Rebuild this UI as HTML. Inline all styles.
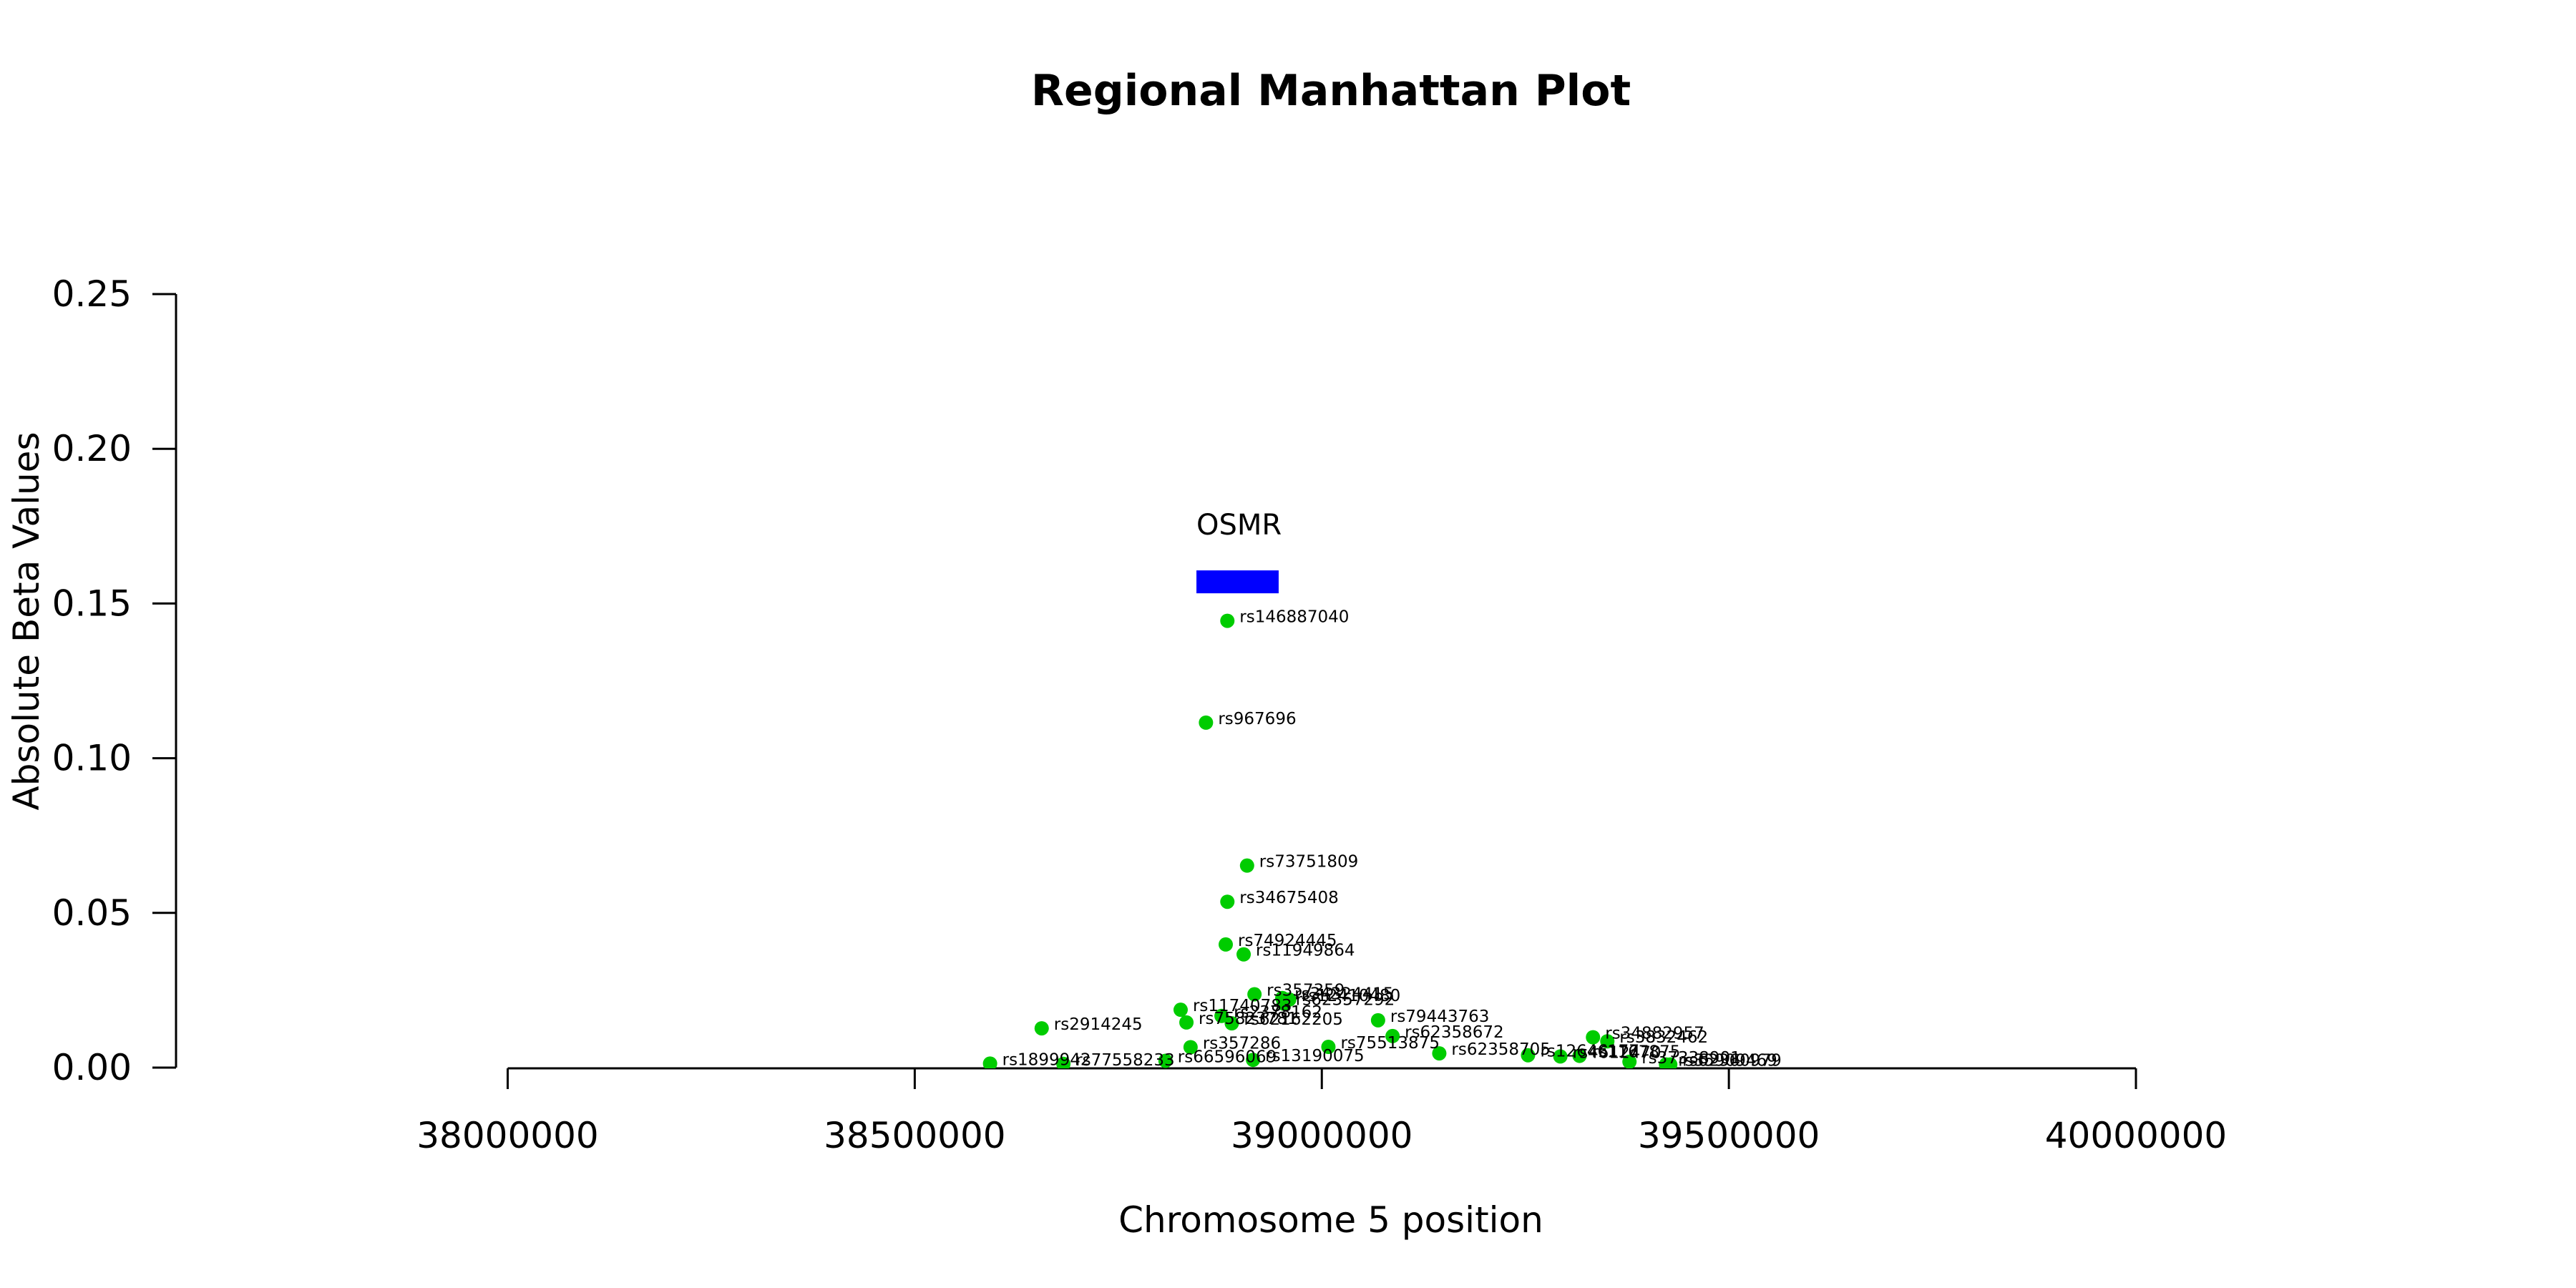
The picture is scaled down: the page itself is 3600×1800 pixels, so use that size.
<!DOCTYPE html>
<html><head><meta charset="utf-8"><style>
html,body{margin:0;padding:0;background:#fff;}
svg{display:block;font-family:"DejaVu Sans","Liberation Sans",sans-serif;}
</style></head><body>
<svg id="chart" width="3600" height="1800" viewBox="0 0 3600 1800">
<defs><clipPath id="plotclip"><rect x="0" y="300" width="3600" height="1193"/></clipPath></defs>
<text x="1860" y="147" text-anchor="middle" font-size="60" font-weight="bold">Regional Manhattan Plot</text>
<g id="yaxis"></g>
<g id="xaxis"></g>
<text x="0" y="0" transform="translate(54,868) rotate(-90)" text-anchor="middle" font-size="50">Absolute Beta Values</text>
<text x="1860" y="1722" text-anchor="middle" font-size="50">Chromosome 5 position</text>
<g id="genes"></g>
<g id="points" clip-path="url(#plotclip)"></g>
<g id="labels"></g>
</svg>
<script>
const snpNames = ["rs146887040","rs967696","rs73751809","rs34675408","rs74924445","rs11949864","rs357359","rs34324415","rs12410480","rs62357292","rs11740783","rs75823781","rs2378162","rs62162205","rs2914245","rs357286","rs1899942","rs77558233","rs66596069","rs13190075","rs79443763","rs75513875","rs62358672","rs62358705","rs12646177","rs4612470","rs1167875","rs34882957","rs3832462","rs37338901","rs35909469","rs62360979"];
const snpPos = [38884000,38857700,38908200,38884000,38882000,38904000,38917300,38951500,38960000,38953000,38826600,38833700,38876800,38889400,38655900,38838800,38592500,38682600,38808000,38915500,39069100,39008100,39086900,39144300,39253300,39293000,39316600,39333100,39350700,39377900,39422800,39428000];
const snpBeta = [0.1444,0.1115,0.0653,0.0536,0.0398,0.0366,0.0237,0.0225,0.0220,0.0207,0.0187,0.0146,0.0167,0.0143,0.0127,0.0066,0.0013,0.0012,0.0022,0.0025,0.0153,0.0067,0.0102,0.0046,0.0040,0.0036,0.0038,0.0098,0.0085,0.0019,0.0010,0.0010];
const yTicks = [0,0.05,0.10,0.15,0.20,0.25];
const yTickLabels = ["0.00","0.05","0.10","0.15","0.20","0.25"];
const xTicks = [38000000,38500000,39000000,39500000,40000000];
const xTickLabels = ["38000000","38500000","39000000","39500000","40000000"];
const geneNames = ["OSMR"];
const geneStart = [38846000];
const geneEnd = [38947000];
const geneBeta = [0.157];

const NS="http://www.w3.org/2000/svg";
function X(v){return 709.5+(v-38000000)/1e6*1137.75;}
function Y(v){return 1492-v/0.25*1081;}
function mk(tag,attrs,parent,text){const e=document.createElementNS(NS,tag);for(const k in attrs)e.setAttribute(k,attrs[k]);if(text!==undefined)e.textContent=text;parent.appendChild(e);return e;}

const ya=document.getElementById('yaxis');
const yl=mk('line',{x1:246,x2:246,y1:Y(0.25),y2:Y(0),stroke:'#000','stroke-width':3},ya);


yTicks.forEach((t,i)=>{
  const tk=mk('line',{x1:213,x2:246,y1:Y(t),y2:Y(t),stroke:'#000','stroke-width':3},ya);
  
  
  const lb=mk('text',{x:184,y:Y(t)+17,'text-anchor':'end','font-size':50},ya,yTickLabels[i]);
  
  
});
const xa=document.getElementById('xaxis');
const xl=mk('line',{x1:X(38000000),x2:X(40000000),y1:1493,y2:1493,stroke:'#000','stroke-width':3},xa);


xTicks.forEach((t,i)=>{
  const tk=mk('line',{x1:X(t),x2:X(t),y1:1493,y2:1522,stroke:'#000','stroke-width':3},xa);
  
  
  const lb=mk('text',{x:X(t),y:1604,'text-anchor':'middle','font-size':50},xa,xTickLabels[i]);
  
  
});
const gg=document.getElementById('genes');
geneNames.forEach((g,i)=>{
  const r=mk('rect',{x:X(geneStart[i]),y:Y(geneBeta[i])-16,width:X(geneEnd[i])-X(geneStart[i]),height:32,fill:'#0000ff'},gg);
  
  
  const t=mk('text',{x:X(geneStart[i]),y:Y(geneBeta[i])-66,'font-size':40},gg,g);
  
  
});
const pg=document.getElementById('points'), lg=document.getElementById('labels');
snpNames.forEach((n,i)=>{
  const c=mk('circle',{cx:X(snpPos[i]),cy:Y(snpBeta[i]),r:10,fill:'#00cc00'},pg);
  
  
  const t=mk('text',{x:X(snpPos[i])+17,y:Y(snpBeta[i])+2,'font-size':23},lg,n);
  
  
});
</script>
</body></html>
